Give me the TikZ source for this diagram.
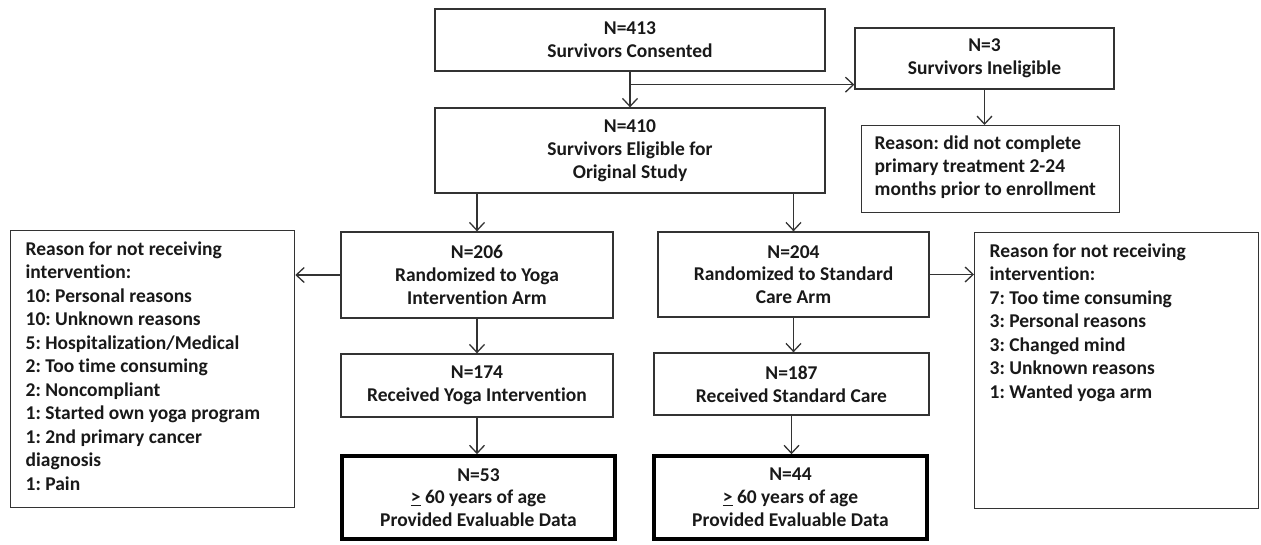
\documentclass[tikz,border=0pt]{standalone}
\usepackage{fontspec}
\setmainfont{Carlito}[Ligatures=NoCommon]
\usetikzlibrary{arrows.meta}
\frenchspacing
\begin{document}
\frenchspacing
\begin{tikzpicture}[x=1pt,y=-1pt,
  box/.style={draw=black!80, line width=1.3pt, fill=white, align=center, inner sep=0pt,
    font=\bfseries\fontsize{19.5}{22.8}\selectfont\frenchspacing, text=black!90},
  boldbox/.style={box, line width=3.6pt, draw=black},
  listbox/.style={box, anchor=north west, inner xsep=15pt, inner ysep=11pt},
  arr/.style={draw=black!80, line width=1.3pt, -{Straight Barb[length=8pt,width=15pt,line width=1.3pt]}}]
\useasboundingbox (0,0) rectangle (1261,544);

\node[box, minimum width=390pt, minimum height=62pt] (top) at (630,40) {N=413\\Survivors Consented};
\node[box, minimum width=390pt, minimum height=85pt] (elig) at (630,150.5) {N=410\\Survivors Eligible for\\Original Study};
\node[box, minimum width=259pt, minimum height=61pt] (inel) at (984.5,58.5) {N=3\\Survivors Ineligible};
\node[box, anchor=north west, inner xsep=13pt, inner ysep=10pt] (inelr) at (861,125)
  {\parbox[t][67pt][t]{232pt}{\raggedright\fontsize{19.5}{23}\selectfont
  Reason: did not complete\\primary treatment 2-24\\months prior to enrollment}};

\node[box, minimum width=272pt, minimum height=86pt] (yoga) at (477,275) {N=206\\Randomized to Yoga\\Intervention Arm};
\node[box, minimum width=271pt, minimum height=85pt] (std) at (793.5,274.5) {N=204\\Randomized to Standard\\Care Arm};
\node[box, minimum width=272pt, minimum height=63pt] (yrec) at (477,385.5) {N=174\\Received Yoga Intervention};
\node[box, minimum width=275pt, minimum height=62pt] (srec) at (791.5,384) {N=187\\Received Standard Care};
\node[boldbox, minimum width=273pt, minimum height=83pt] (ybold) at (478.5,497.5) {N=53\\\underline{>} 60 years of age\\Provided Evaluable Data};
\node[boldbox, minimum width=273pt, minimum height=83pt] (sbold) at (790.5,497.5) {N=44\\\underline{>} 60 years of age\\Provided Evaluable Data};

\node[listbox] (lr) at (10,230) {\parbox[t][255pt][t]{254pt}{\raggedright\fontsize{19.5}{23.5}\selectfont
  Reason for not receiving\\intervention:\\10: Personal reasons\\10: Unknown reasons\\5: Hospitalization/Medical\\2: Too time consuming\\2: Noncompliant\\1: Started own yoga program\\1: 2nd primary cancer\\diagnosis\\1: Pain}};
\node[listbox] (rr) at (974,232) {\parbox[t][254pt][t]{254pt}{\raggedright\fontsize{19.5}{23.5}\selectfont
  Reason for not receiving\\intervention:\\7: Too time consuming\\3: Personal reasons\\3: Changed mind\\3: Unknown reasons\\1: Wanted yoga arm}};

\draw[arr] (top.south) -- (elig.north);
\coordinate (split) at ([yshift=-13pt]top.south);
\draw[arr] (split) -- (split -| inel.west);
\draw[arr] (inel.south) -- (inel.south |- inelr.north);
\draw[arr] (elig.south -| yoga.north) -- (yoga.north);
\draw[arr] (elig.south -| std.north) -- (std.north);
\draw[arr] (yoga.west) -- (yoga.west -| lr.east);
\draw[arr] (std.east) -- (std.east -| rr.west);
\draw[arr] (yoga.south) -- (yrec.north);
\draw[arr] (yrec.south) -- (yrec.south |- ybold.north);
\draw[arr] (std.south) -- (std.south |- srec.north);
\draw[arr] (srec.south) -- (srec.south |- sbold.north);
\end{tikzpicture}
\end{document}
